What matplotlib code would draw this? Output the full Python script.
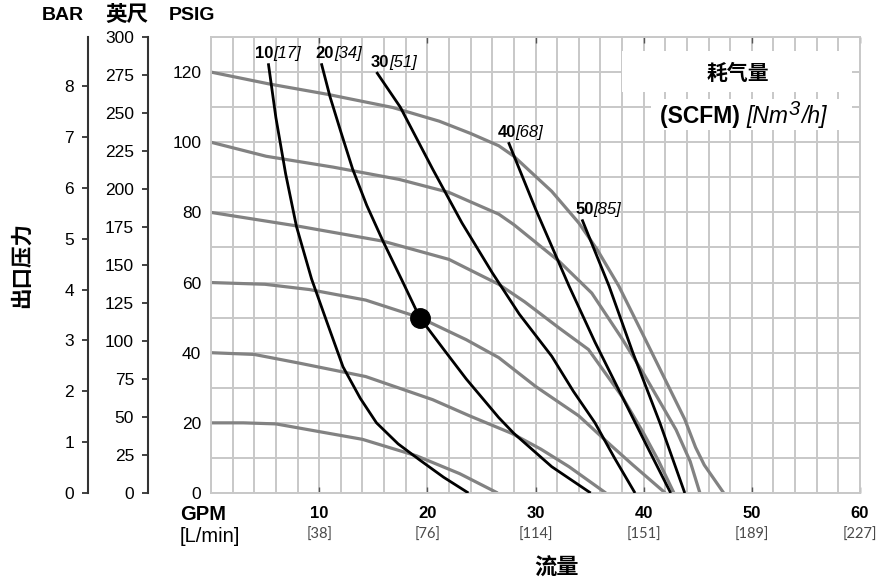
import numpy as np
import matplotlib
matplotlib.use("Agg")
import matplotlib.pyplot as plt
from matplotlib.ticker import MultipleLocator
from matplotlib.patches import Rectangle
import matplotlib.transforms as mtransforms

plt.rcParams.update({
    "font.family": ["Liberation Sans", "Noto Sans CJK SC"],
    "axes.unicode_minus": False,
})

GRAY, INK, GRID = "#828282", "#000000", "#c8c8c8"

# pump curves at each air inlet pressure (psig): flow in GPM, outlet pressure in psig
p120_q = [0, 5.4, 10.7, 16.8, 21.1, 24.0, 26.6, 28.0, 31.5, 34.0, 35.7, 37.7, 39.8, 42.2, 43.8, 44.8, 45.6, 47.4]
p120_p = [120, 116.6, 113.7, 109.9, 106, 102.5, 99, 96, 86, 77, 69.4, 59, 46, 31, 21, 13, 8, 0]
p100_q = [0, 5.1, 11.3, 17.4, 22.0, 24.0, 26.6, 28.0, 30.0, 32.2, 35.2, 38.0, 40.0, 41.5, 43.0, 44.3, 45.2]
p100_p = [100, 96, 92.9, 89.4, 85.7, 83, 79.5, 76.5, 71.5, 66, 57, 44, 34, 26, 18, 9, 0]
p80_q = [0, 8.2, 15.9, 22.0, 24.0, 26.6, 29.0, 32.2, 34.9, 38.0, 40.0, 41.4, 42.8]
p80_p = [80, 76, 71.8, 66.6, 63.5, 59.5, 54.5, 47, 40.9, 27.5, 17, 9, 0]
p60_q = [0, 5.0, 9.1, 14.3, 19.3, 23.6, 26.6, 30.0, 34.0, 37.0, 39.0, 42.0]
p60_p = [60, 59.5, 58, 55, 50, 43.7, 38.6, 30.4, 22, 13.5, 8, 0]
p40_q = [0, 4.0, 8.2, 14.3, 20.5, 23.9, 27.8, 30.5, 33.1, 36.5]
p40_p = [40, 39.5, 37, 33.2, 26.6, 22, 17, 12.5, 7.5, 0]
p20_q = [0, 3.0, 6.0, 10.0, 14.0, 19.0, 23.0, 26.5]
p20_p = [20, 20, 19.7, 17.5, 15.3, 10.6, 5.5, 0]

# air consumption lines (SCFM)
s10_q = [5.3, 6.0, 6.9, 7.9, 9.3, 10.8, 12.2, 13.8, 15.3, 17.3, 19.3, 21.5, 23.8]
s10_p = [122.5, 107, 91, 76, 61, 48, 36, 27, 20, 14, 9.4, 4.5, 0]
s20_q = [10.2, 11.0, 12.0, 13.1, 14.4, 15.9, 17.6, 19.3, 21.5, 23.6, 26.6, 28.0, 31.5, 35.1]
s20_p = [122.5, 113, 103, 92.3, 82, 71.8, 61, 50, 41, 32.5, 21.5, 17, 7.5, 0]
s30_q = [15.3, 17.5, 20.5, 23.2, 26.0, 28.5, 31.5, 33.5, 35.5, 37.3, 39.2]
s30_p = [120, 110, 92.3, 77, 62.8, 51, 39, 29, 20, 10, 0]
s40_q = [27.5, 30.0, 33.1, 35.5, 37.7, 40.2, 42.5]
s40_p = [100, 81, 59, 43, 29.4, 14, 0]
s50_q = [34.3, 36.8, 39.0, 41.5, 43.8]
s50_p = [78, 59, 40, 20, 0]

scfm_vals = ["10", "20", "30", "40", "50"]
nm3h_vals = ["[17]", "[34]", "[51]", "[68]", "[85]"]

# example operating point
op_q, op_p = 19.3, 50

gpm_ticks = [10, 20, 30, 40, 50, 60]
lpm_labels = ["[38]", "[76]", "[114]", "[151]", "[189]", "[227]"]
psi_ticks = [0, 20, 40, 60, 80, 100, 120]
ft_ticks = [0, 25, 50, 75, 100, 125, 150, 175, 200, 225, 250, 275, 300]
bar_ticks = [0, 1, 2, 3, 4, 5, 6, 7, 8]
PSI_MAX, FT_MAX, PSI_PER_BAR = 130, 300, 14.5

W, H = 892, 584
fig = plt.figure(figsize=(W / 100, H / 100), dpi=100)
rect = [211 / W, 1 - 493 / H, 649 / W, 456 / H]
ax = fig.add_axes(rect)

ax.set_xlim(0, 60)
ax.set_ylim(0, PSI_MAX)
ax.xaxis.set_minor_locator(MultipleLocator(2))
ax.yaxis.set_minor_locator(MultipleLocator(10))
ax.set_xticks(gpm_ticks)
ax.set_xticklabels([])
ax.set_yticks(psi_ticks)
ax.set_yticklabels([str(v) for v in psi_ticks], fontsize=12.5)
ax.tick_params(axis="y", which="both", length=0, pad=7)
ax.tick_params(axis="x", which="major", direction="in", length=4.5, width=1, color="#555555", top=True)
ax.tick_params(axis="x", which="minor", length=0)
ax.grid(True, which="both", color=GRID, lw=1.4, zorder=0)
ax.set_axisbelow(True)
for s in ax.spines.values():
    s.set_color(GRID)
    s.set_linewidth(1.4)

# legend area knocks out the grid
ax.add_patch(Rectangle((38.0, 114.3), 21.3, 11.7, fc="white", ec="none", zorder=1.5))
ax.add_patch(Rectangle((40.7, 103.5), 18.6, 8.8, fc="white", ec="none", zorder=1.5))

for q, p in [(p120_q, p120_p), (p100_q, p100_p), (p80_q, p80_p),
             (p60_q, p60_p), (p40_q, p40_p), (p20_q, p20_p)]:
    ax.plot(q, p, color=GRAY, lw=2.3, solid_joinstyle="round", solid_capstyle="butt", zorder=2)

air_lines = [(s10_q, s10_p), (s20_q, s20_p), (s30_q, s30_p), (s40_q, s40_p), (s50_q, s50_p)]
lab_dx = [-9.5, -4, -4, -8, -5]
for (q, p), a, b, dx in zip(air_lines, scfm_vals, nm3h_vals, lab_dx):
    ax.plot(q, p, color=INK, lw=2.0, solid_joinstyle="round", solid_capstyle="butt", zorder=3)
    t1 = ax.annotate(a, (q[0], p[0]), xytext=(dx, 1.5), textcoords="offset points",
                     ha="left", va="bottom", fontsize=12, fontweight="bold", zorder=4)
    ax.annotate(b, (1, 0), xycoords=t1, ha="left", va="bottom", fontsize=12,
                style="italic", zorder=4)

ax.plot(op_q, op_p, "o", ms=14, color=INK, zorder=5)

ax.text(0.827, 0.873, "耗气量", transform=fig.transFigure, ha="center", va="center",
        fontsize=15, fontweight="bold", zorder=6)
# second legend line: bold units, italic metric units with raised exponent
u1 = ax.text(660 / W, 1 - 117 / H, "(SCFM) ", transform=fig.transFigure, ha="left",
             va="center", fontsize=16.5, fontweight="bold", zorder=6)
u2 = ax.annotate("[Nm", (1, 0), xycoords=u1, ha="left", va="bottom", fontsize=16.5,
                 style="italic", zorder=6)
ax.annotate("3", (1, 0.4), xycoords=u2, xytext=(0.5, 0), textcoords="offset points",
            ha="left", va="bottom", fontsize=14.5, style="italic", zorder=6)
ax.annotate("/h]", (1, 0), xycoords=u2, xytext=(9.5, 0), textcoords="offset points",
            ha="left", va="bottom", fontsize=16.5, style="italic", zorder=6)

# flow axis labels under the grid
tr = mtransforms.blended_transform_factory(ax.transData, fig.transFigure)
for g, l in zip(gpm_ticks, lpm_labels):
    ax.text(g, 1 - 514 / H, str(g), transform=tr, ha="center", va="center",
            fontsize=12, fontweight="bold")
    ax.text(g, 1 - 535 / H, l, transform=tr, ha="center", va="center",
            fontsize=10.5, color="#4a4a4a", family="Lato")
fig.text(180 / W, 1 - 514 / H, "GPM", ha="left", va="center", fontsize=14.5, fontweight="bold")
fig.text(180 / W, 1 - 536 / H, "[L/min]", ha="left", va="center", fontsize=14.5)
fig.text(557 / W, 1 - 569 / H, "流量", ha="center", va="center", fontsize=16, fontweight="bold")

# extra pressure scales: feet of head and bar
def side_axis(offset, top, ticks):
    a = fig.add_axes(rect, frameon=True)
    a.patch.set_visible(False)
    for k in ("top", "right", "bottom"):
        a.spines[k].set_visible(False)
    a.spines["left"].set_position(("outward", offset))
    a.spines["left"].set_color("#333333")
    a.spines["left"].set_linewidth(1.5)
    a.set_xticks([])
    a.set_ylim(0, top)
    a.set_yticks(ticks)
    a.set_yticklabels([str(t) for t in ticks], fontsize=12.5)
    a.tick_params(axis="y", direction="out", length=4, width=1.3, color="#333333", pad=6)
    return a

side_axis(63 * 0.72, FT_MAX, ft_ticks)
side_axis(123 * 0.72, PSI_MAX / PSI_PER_BAR, bar_ticks)

fig.text(63 / W, 1 - 15 / H, "BAR", ha="center", va="center", fontsize=14, fontweight="bold")
fig.text(127 / W, 1 - 15 / H, "英尺", ha="center", va="center", fontsize=15.5, fontweight="bold")
fig.text(192 / W, 1 - 15 / H, "PSIG", ha="center", va="center", fontsize=14, fontweight="bold")
fig.text(22 / W, 1 - 265 / H, "出口压力", ha="center", va="center", rotation=90,
         fontsize=15.5, fontweight="bold")

fig.savefig("out.png", dpi=100)
